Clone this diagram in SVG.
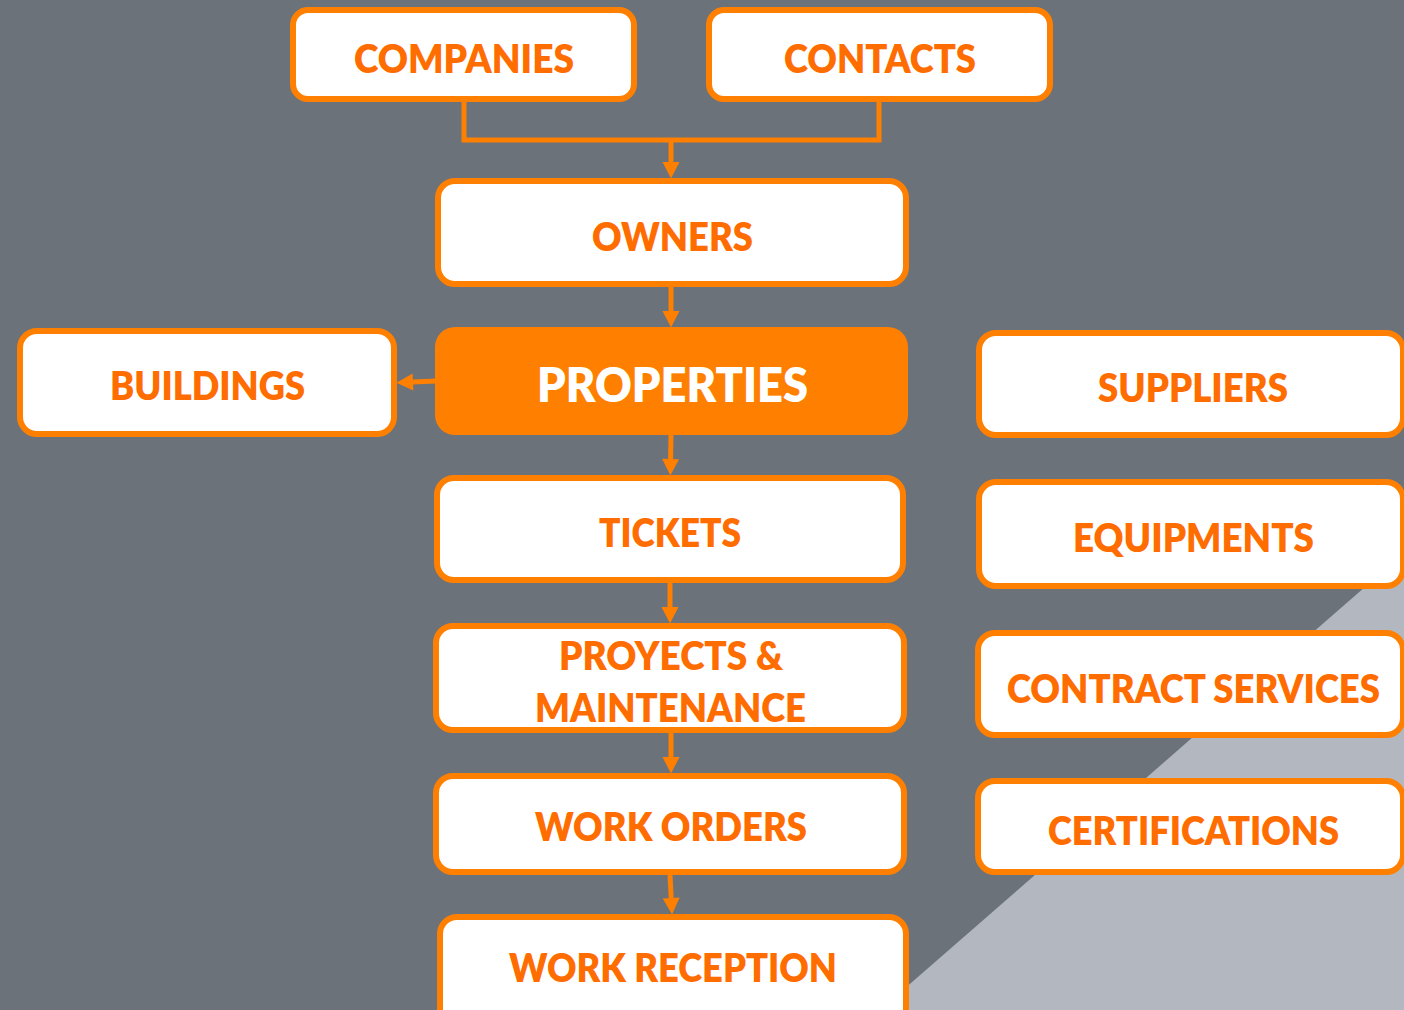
<svg xmlns="http://www.w3.org/2000/svg" width="1404" height="1010" viewBox="0 0 1404 1010">
<style>
.box{fill:#ffffff;stroke:#ff7f00;stroke-width:6}
.lbl{font-family:Lato,"Open Sans","Liberation Sans",sans-serif;font-weight:800;font-size:39px;fill:#ff6c00;text-anchor:middle}
.con{fill:none;stroke:#ff7f00;stroke-width:5}
</style>
<defs>
<marker id="ah" markerUnits="userSpaceOnUse" markerWidth="18" markerHeight="18" viewBox="0 -9 17 18" refX="0" refY="0" orient="auto">
<path d="M0,-8.5 L16.5,0 L0,8.5 Z" fill="#ff7f00"/>
</marker>
</defs>
<rect x="0" y="0" width="1404" height="1010" fill="#6b727a"/>
<polygon points="1404,553 1404,1010 880,1010" fill="#b2b7c0"/>

<g id="connectors">
<path class="con" d="M464,102 V140 H879 V102"/>
<path class="con" d="M671,140 V162" marker-end="url(#ah)"/>
<path class="con" d="M671,287 V311" marker-end="url(#ah)"/>
<path class="con" d="M436,381 L413,382" marker-end="url(#ah)"/>
<path class="con" d="M671,435 L670.6,459" marker-end="url(#ah)"/>
<path class="con" d="M670,583 V607" marker-end="url(#ah)"/>
<path class="con" d="M671,733 V757" marker-end="url(#ah)"/>
<path class="con" d="M670,875 L671.2,898" marker-end="url(#ah)"/>
</g>

<g id="companies">
<rect class="box" x="293" y="10" width="341" height="89" rx="15"/>
<text class="lbl" x="464" y="73" textLength="220" lengthAdjust="spacingAndGlyphs">COMPANIES</text>
</g>
<g id="contacts">
<rect class="box" x="709" y="10" width="341" height="89" rx="15"/>
<text class="lbl" x="880" y="73" textLength="192" lengthAdjust="spacingAndGlyphs">CONTACTS</text>
</g>
<g id="owners">
<rect class="box" x="438" y="181" width="468" height="103" rx="17"/>
<text class="lbl" x="672.5" y="251" textLength="161" lengthAdjust="spacingAndGlyphs">OWNERS</text>
</g>
<g id="properties">
<rect x="435" y="327" width="473" height="108" rx="20" fill="#ff7f00"/>
<text class="lbl" x="672.5" y="402" style="font-size:47px;fill:#ffffff" textLength="271" lengthAdjust="spacingAndGlyphs">PROPERTIES</text>
</g>
<g id="buildings">
<rect class="box" x="20" y="331" width="374" height="103" rx="17"/>
<text class="lbl" x="207.5" y="400" textLength="195" lengthAdjust="spacingAndGlyphs">BUILDINGS</text>
</g>
<g id="tickets">
<rect class="box" x="437" y="478" width="466" height="102" rx="17"/>
<text class="lbl" x="670" y="547" textLength="142" lengthAdjust="spacingAndGlyphs">TICKETS</text>
</g>
<g id="projects">
<rect class="box" x="436" y="626" width="468" height="104" rx="17"/>
<text class="lbl" x="671" y="670" textLength="224" lengthAdjust="spacingAndGlyphs">PROYECTS &amp;</text>
<text class="lbl" x="670.5" y="722" textLength="271" lengthAdjust="spacingAndGlyphs">MAINTENANCE</text>
</g>
<g id="work-orders">
<rect class="box" x="436" y="776" width="468" height="96" rx="17"/>
<text class="lbl" x="671" y="841" textLength="272" lengthAdjust="spacingAndGlyphs">WORK ORDERS</text>
</g>
<g id="work-reception">
<rect class="box" x="440" y="917" width="466" height="110" rx="17"/>
<text class="lbl" x="673" y="982" textLength="328" lengthAdjust="spacingAndGlyphs">WORK RECEPTION</text>
</g>
<g id="suppliers">
<rect class="box" x="979" y="333" width="424" height="102" rx="17"/>
<text class="lbl" x="1193" y="402" textLength="190" lengthAdjust="spacingAndGlyphs">SUPPLIERS</text>
</g>
<g id="equipments">
<rect class="box" x="979" y="482" width="424" height="104" rx="17"/>
<text class="lbl" x="1193.5" y="552" textLength="241" lengthAdjust="spacingAndGlyphs">EQUIPMENTS</text>
</g>
<g id="contract-services">
<rect class="box" x="978" y="633" width="425" height="102" rx="17"/>
<text class="lbl" x="1193.5" y="703" textLength="373" lengthAdjust="spacingAndGlyphs">CONTRACT SERVICES</text>
</g>
<g id="certifications">
<rect class="box" x="978" y="781" width="425" height="91" rx="17"/>
<text class="lbl" x="1193.5" y="845" textLength="291" lengthAdjust="spacingAndGlyphs">CERTIFICATIONS</text>
</g>
</svg>
